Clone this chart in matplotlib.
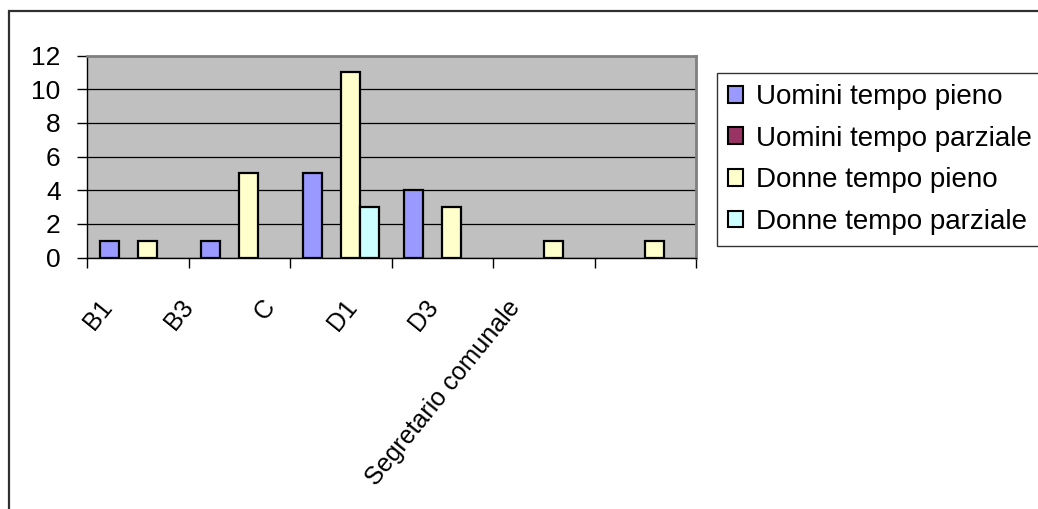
import matplotlib
matplotlib.use("Agg")
import matplotlib.pyplot as plt
from matplotlib.patches import Rectangle, Patch
import numpy as np

plt.rcParams['font.family'] = ['Liberation Sans', 'DejaVu Sans']

categories = ["B1", "B3", "C", "D1", "D3", "Segretario comunale"]
series_names = ["Uomini tempo pieno", "Uomini tempo parziale",
                "Donne tempo pieno", "Donne tempo parziale"]
uomini_pieno = [1, 1, 5, 4, 0, 0]
uomini_parziale = [0, 0, 0, 0, 0, 0]
donne_pieno = [1, 5, 11, 3, 1, 1]
donne_parziale = [0, 0, 3, 0, 0, 0]
y_ticks = [0, 2, 4, 6, 8, 10, 12]

series_values = [uomini_pieno, uomini_parziale, donne_pieno, donne_parziale]
colors = ["#9999FF", "#993366", "#FFFFCC", "#CCFFFF"]

W, H = 1038, 509
fig = plt.figure(figsize=(W / 100, H / 100), dpi=100)

# outer chart frame (runs off the right and bottom edges)
fig.patches.append(Rectangle((8.5 / W, -0.1), 1.2, 1.1 - 11 / H,
                             transform=fig.transFigure, fill=False,
                             edgecolor="#303030", linewidth=1.6))

ax = fig.add_axes([87 / W, 1 - 257.5 / H, 609 / W, 202 / H])
ax.set_facecolor("#C0C0C0")

n_cat = len(categories)
bar_w = 0.186
gap_half = 0.128
x0 = np.arange(n_cat)
for j, (vals, col) in enumerate(zip(series_values, colors)):
    vals = np.asarray(vals, dtype=float)
    keep = vals > 0
    ax.bar(x0[keep] + gap_half + j * bar_w, vals[keep], width=bar_w,
           align="edge", color=col, edgecolor="black", linewidth=1.6,
           zorder=3)

ax.set_xlim(0, n_cat)
ax.set_ylim(0, 12)
ax.set_yticks(y_ticks)
ax.yaxis.grid(True, color="black", linewidth=0.9, zorder=1)
ax.set_axisbelow(True)
ax.tick_params(axis="y", labelsize=19, length=7, width=1, pad=12,
               direction="out")
ax.set_xticks(np.arange(n_cat + 1))
ax.set_xticklabels([])
ax.tick_params(axis="x", length=7, width=1, direction="out")

for side in ("left", "bottom"):
    ax.spines[side].set_color("black")
    ax.spines[side].set_linewidth(1.0)
for side in ("top", "right"):
    ax.spines[side].set_color("#808080")
    ax.spines[side].set_linewidth(2.0)

# rotated category labels
label_start = 0.296
label_step = 0.804
for i, name in enumerate(categories):
    ax.annotate(name, xy=(label_start + i * label_step, 0),
                xycoords=("data", "axes fraction"),
                xytext=(0, -38 * 0.72), textcoords="offset points",
                rotation=51, ha="right", va="top", fontsize=18,
                annotation_clip=False)

handles = [Patch(facecolor=c, edgecolor="black", linewidth=1.5) for c in colors]
leg = fig.legend(handles, series_names, loc="upper left",
                 bbox_to_anchor=(717 / W, 1 - 73 / H),
                 bbox_transform=fig.transFigure, fontsize=20,
                 frameon=True, fancybox=False, edgecolor="black",
                 handlelength=0.55, handleheight=0.55, handletextpad=0.45,
                 labelspacing=0.56, borderpad=0.4, borderaxespad=0)
leg.get_frame().set_linewidth(1.0)

fig.savefig("out.png", dpi=100)
